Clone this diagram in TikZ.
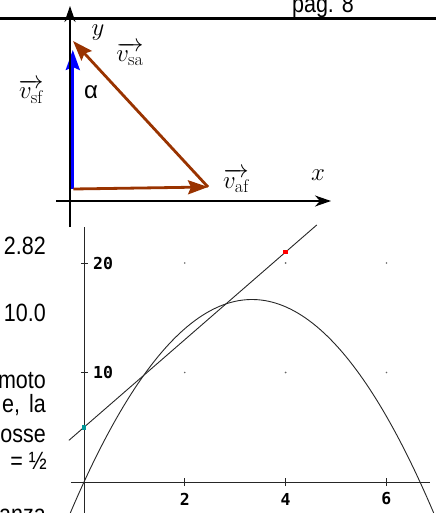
\documentclass[tikz,border=0pt]{standalone}
\usepackage{amsmath}
\usepackage{fontspec}
\usepackage{xcolor}
\usetikzlibrary{arrows.meta}

\newfontfamily\pagefont[FakeStretch=0.86]{Liberation Sans}
\newfontfamily\greekfont{Liberation Sans}
\newfontfamily\plotfont{DejaVu Sans Mono}
\definecolor{vecbrown}{RGB}{153,51,0}
\definecolor{dotteal}{RGB}{0,150,150}

\begin{document}
\begin{tikzpicture}[x=1pt, y=-1pt,
    >={Stealth[length=16pt, width=11pt, inset=5pt]},
    % Axes of the vector sketch
    vaxis/.style={line width=1.6pt, black, ->},
    % Velocity vectors
    vec/.style={line width=2.8pt, -{Stealth[length=20pt, width=14pt, inset=3pt]}},
    % Math labels
    mlabel/.style={font=\fontsize{26}{30}\selectfont, inner sep=0pt},
    % Cropped page text
    pagetext/.style={font=\pagefont\fontsize{25}{30}\selectfont, inner sep=0pt, anchor=base east},
    % Plot
    plotaxis/.style={line width=0.9pt, black!85},
    fncurve/.style={line width=0.9pt, black!85},
    ticklabel/.style={font=\plotfont\bfseries\fontsize{16.5}{18}\selectfont, inner sep=0pt},
    griddot/.style={circle, fill=black!60, inner sep=0pt, minimum size=1.8pt},
    ptbox/.style={rectangle, inner sep=0pt, minimum size=4.5pt},
]
\useasboundingbox (0,0) rectangle (436,513);
\clip (0,0) rectangle (436,513);

% ===== PAGE HEADER =====
\node[font=\pagefont\fontsize{25}{30}\selectfont, inner sep=0pt, anchor=base] (pagenum) at (323,12.5) {pag. 8};
\coordinate (rule_l) at (0,19);
\coordinate (rule_r) at (436,19);
\draw[line width=3pt] (rule_l) -- (rule_r);

% ===== VECTOR SKETCH =====
\coordinate (v_o) at (72.8,189);
\coordinate (v_sf) at (72.8,50);
\coordinate (v_af) at (208,187);
\coordinate (v_sa) at (73,41);

\draw[vec, blue] (v_o) -- (v_sf);
\draw[vec, vecbrown] ([xshift=0.5pt]v_o) -- (v_af);
\draw[vec, vecbrown] (v_af) -- (v_sa);

\coordinate (ax_yb) at (70,227);
\coordinate (ax_yt) at (70,6);
\coordinate (ax_xl) at (56,201);
\coordinate (ax_xr) at (331,201);
\draw[vaxis] (ax_yb) -- (ax_yt);
\draw[vaxis] (ax_xl) -- (ax_xr);

\node[mlabel] (lbl_y) at (98,33) {$y$};
\node[mlabel] (lbl_x) at (318,175) {$x$};
\node[mlabel, anchor=base] (lbl_vsa) at (130,62) {$\overrightarrow{v_{\mathrm{sa}}}$};
\node[mlabel, anchor=base] (lbl_vsf) at (31,99) {$\overrightarrow{v_{\mathrm{sf}}}$};
\node[mlabel, anchor=base] (lbl_vaf) at (236,188) {$\overrightarrow{v_{\mathrm{af}}}$};
\node[font=\greekfont\fontsize{24}{28}\selectfont, inner sep=0pt] (lbl_alpha) at (91,92) {α};

% ===== CROPPED TEXT =====
\node[pagetext] (txt_a) at (46,254) {2.82};
\node[pagetext] (txt_b) at (46,321) {10.0};
\node[pagetext] (txt_c) at (46,388) {moto};
\node[pagetext] (txt_d) at (46,412) {e,\hspace{9pt}la};
\node[pagetext] (txt_e) at (46,442) {osse};
\node[pagetext] (txt_f) at (47,469) {= ½};
\node[pagetext] (txt_g) at (46,522) {anza};

% ===== GRAPH =====
\begin{scope}[shift={(84,482)}, x=50.4pt, y=10.95pt]
  \coordinate (gx_l) at (-0.26,0);
  \coordinate (gx_r) at (6.87,0);
  \coordinate (gy_b) at (0,-3);
  \coordinate (gy_t) at (0,23.3);
  \draw[plotaxis] (gx_l) -- (gx_r);
  \draw[plotaxis] (gy_b) -- (gy_t);

  \foreach \t in {2,4,6} {
    \draw[plotaxis] (\t,0) ++(0pt,-4pt) -- ++(0pt,8pt);
    \node[ticklabel] (xlab_\t) at ([yshift=-17pt]\t,0) {\t};
  }
  \foreach \t in {10,20} {
    \draw[plotaxis] (0,\t) ++(-3pt,0pt) -- ++(6.5pt,0pt);
    \node[ticklabel, anchor=west] (ylab_\t) at ([xshift=9pt]0,\t) {\t};
  }
  \foreach \gx in {2,4,6}
    \foreach \gy in {10,20}
      \node[griddot] (dot_\gx_\gy) at (\gx,\gy) {};

  % secant and parabola
  \coordinate (sec_a) at (-0.3,3.8);
  \coordinate (sec_b) at (4.62,23.48);
  \draw[fncurve] (sec_a) -- (sec_b);
  \draw[fncurve] plot[domain=-0.3:6.95, samples=100, smooth] (\x,{10*\x-1.5*\x*\x});

  \node[ptbox, fill=dotteal] (pt_start) at (0,5) {};
  \node[ptbox, fill=red] (pt_end) at (4,21) {};
\end{scope}

\end{tikzpicture}
\end{document}
